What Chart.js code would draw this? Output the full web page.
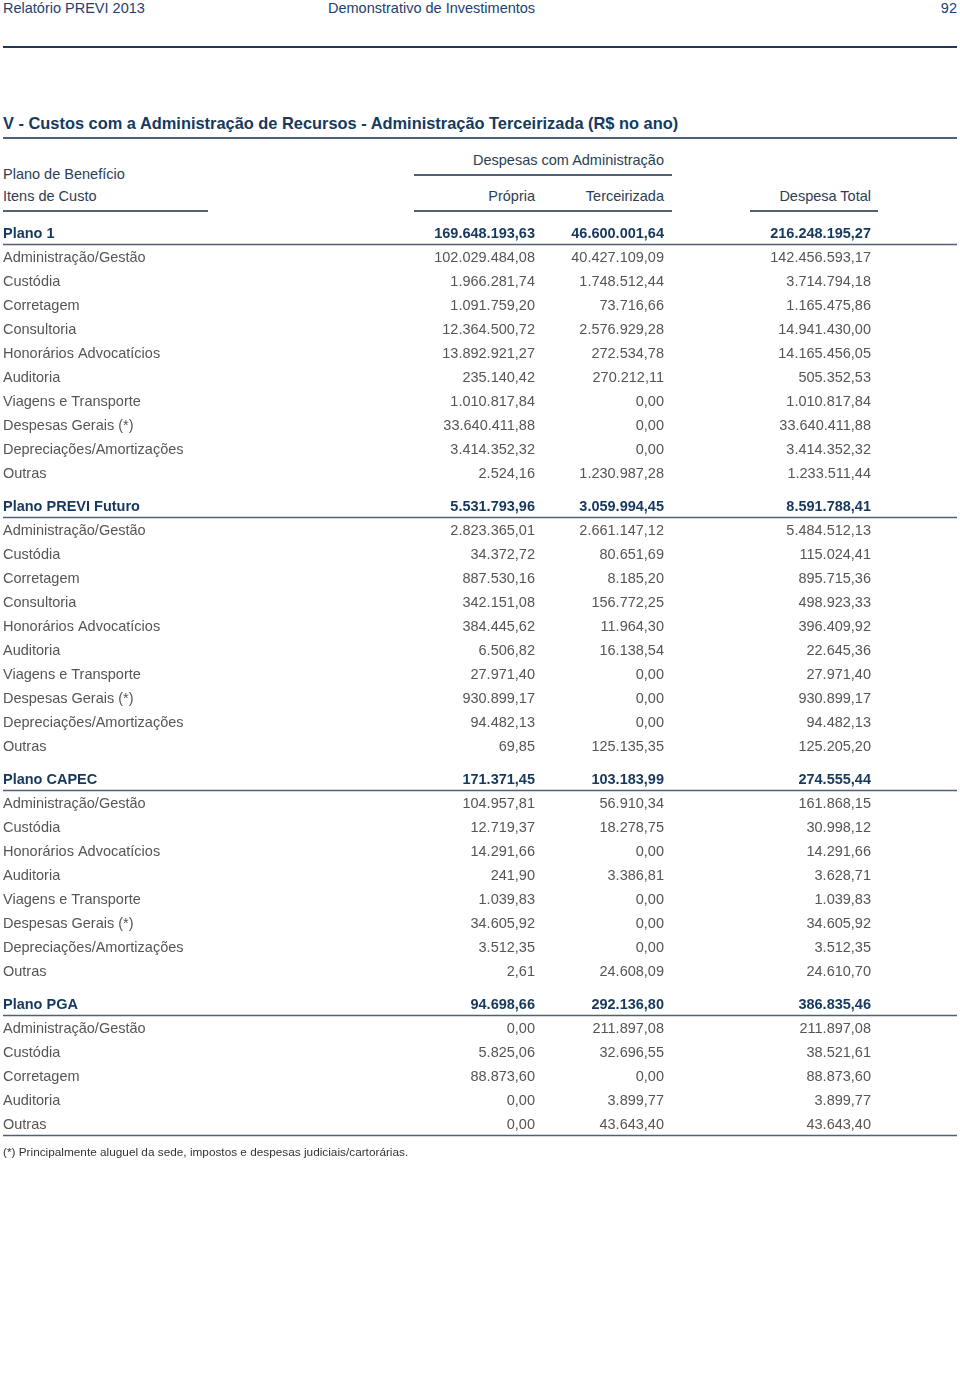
<!DOCTYPE html>
<html lang="pt-BR">
<head>
<meta charset="utf-8">
<title>Custos com a Administração de Recursos</title>
<script src="https://cdn.jsdelivr.net/npm/chart.js@4.4.0/dist/chart.umd.min.js"></script>
<style>
  body { margin: 0; width: 960px; height: 1387px; position: relative; background: #fff;
         font-family: "Liberation Sans", Arial, Helvetica, sans-serif; }
  .t { position: absolute; white-space: nowrap; line-height: 1; }
  .rule { position: absolute; background: #4f6275; }
  .top { font-size: 14.5px; color: #1d4170; top: 1px; }
  .hd { font-size: 14.5px; color: #2c3e52; }
  #chartBox { position: absolute; left: 0; top: 216px; width: 960px; height: 936px; }
</style>
</head>
<body>
<div class="t top" style="left:3px">Relatório PREVI 2013</div>
<div class="t top" style="left:328px">Demonstrativo de Investimentos</div>
<div class="t top" style="right:3px">92</div>
<div class="rule" style="left:3px;width:954px;top:46px;height:2px;background:#1e3a58"></div>

<div class="t" style="left:3px;top:115px;font-size:16.4px;font-weight:bold;color:#163a5e">V - Custos com a Administração de Recursos - Administração Terceirizada (R$ no ano)</div>
<div class="rule" style="left:3px;width:954px;top:137px;height:2px"></div>

<div class="t hd" style="right:296px;top:153px">Despesas com Administração</div>
<div class="rule" style="left:414px;width:258px;top:174px;height:1.5px"></div>
<div class="t hd" style="left:3px;top:167px">Plano de Benefício</div>
<div class="t hd" style="left:3px;top:189px">Itens de Custo</div>
<div class="t hd" style="right:425px;top:189px">Própria</div>
<div class="t hd" style="right:296px;top:189px">Terceirizada</div>
<div class="t hd" style="right:89px;top:189px">Despesa Total</div>
<div class="rule" style="left:3px;width:205px;top:210px;height:1.5px"></div>
<div class="rule" style="left:414px;width:258px;top:210px;height:1.5px"></div>
<div class="rule" style="left:750px;width:128px;top:210px;height:1.5px"></div>

<div id="chartBox"><canvas id="tabela" width="960" height="936"></canvas></div>

<div class="t" style="left:3px;top:1147px;font-size:11.8px;color:#333">(*) Principalmente aluguel da sede, impostos e despesas judiciais/cartorárias.</div>

<script>
// planos (linhas de total)
const groups = ['Plano 1', 'Plano PREVI Futuro', 'Plano CAPEC', 'Plano PGA'];
const groupPropria = [169648193.63, 5531793.96, 171371.45, 94698.66];
const groupTerceirizada = [46600001.64, 3059994.45, 103183.99, 292136.80];
const groupTotal = [216248195.27, 8591788.41, 274555.44, 386835.46];

// Plano 1
const plano1Itens = ['Administração/Gestão', 'Custódia', 'Corretagem', 'Consultoria', 'Honorários Advocatícios',
  'Auditoria', 'Viagens e Transporte', 'Despesas Gerais (*)', 'Depreciações/Amortizações', 'Outras'];
const plano1Propria = [102029484.08, 1966281.74, 1091759.20, 12364500.72, 13892921.27, 235140.42, 1010817.84, 33640411.88, 3414352.32, 2524.16];
const plano1Terceirizada = [40427109.09, 1748512.44, 73716.66, 2576929.28, 272534.78, 270212.11, 0, 0, 0, 1230987.28];
const plano1Total = [142456593.17, 3714794.18, 1165475.86, 14941430.00, 14165456.05, 505352.53, 1010817.84, 33640411.88, 3414352.32, 1233511.44];

// Plano PREVI Futuro
const futuroItens = ['Administração/Gestão', 'Custódia', 'Corretagem', 'Consultoria', 'Honorários Advocatícios',
  'Auditoria', 'Viagens e Transporte', 'Despesas Gerais (*)', 'Depreciações/Amortizações', 'Outras'];
const futuroPropria = [2823365.01, 34372.72, 887530.16, 342151.08, 384445.62, 6506.82, 27971.40, 930899.17, 94482.13, 69.85];
const futuroTerceirizada = [2661147.12, 80651.69, 8185.20, 156772.25, 11964.30, 16138.54, 0, 0, 0, 125135.35];
const futuroTotal = [5484512.13, 115024.41, 895715.36, 498923.33, 396409.92, 22645.36, 27971.40, 930899.17, 94482.13, 125205.20];

// Plano CAPEC
const capecItens = ['Administração/Gestão', 'Custódia', 'Honorários Advocatícios', 'Auditoria',
  'Viagens e Transporte', 'Despesas Gerais (*)', 'Depreciações/Amortizações', 'Outras'];
const capecPropria = [104957.81, 12719.37, 14291.66, 241.90, 1039.83, 34605.92, 3512.35, 2.61];
const capecTerceirizada = [56910.34, 18278.75, 0, 3386.81, 0, 0, 0, 24608.09];
const capecTotal = [161868.15, 30998.12, 14291.66, 3628.71, 1039.83, 34605.92, 3512.35, 24610.70];

// Plano PGA
const pgaItens = ['Administração/Gestão', 'Custódia', 'Corretagem', 'Auditoria', 'Outras'];
const pgaPropria = [0, 5825.06, 88873.60, 0, 0];
const pgaTerceirizada = [211897.08, 32696.55, 0, 3899.77, 43643.40];
const pgaTotal = [211897.08, 38521.61, 88873.60, 3899.77, 43643.40];

const itens = [plano1Itens, futuroItens, capecItens, pgaItens];
const propria = [plano1Propria, futuroPropria, capecPropria, pgaPropria];
const terceirizada = [plano1Terceirizada, futuroTerceirizada, capecTerceirizada, pgaTerceirizada];
const total = [plano1Total, futuroTotal, capecTotal, pgaTotal];

// layout: column anchors on the x scale (pixels), extra gap before each plano (in rows)
const colX = { itens: 3, propria: 535, terceirizada: 664, total: 871 };
const groupGap = 0.375;
const navy = '#16385c', gray = '#555555';
const fontFam = '"Liberation Sans", Arial, sans-serif';

function fmt(n) {
  const [i, d] = n.toFixed(2).split('.');
  return i.replace(/\B(?=(\d{3})+(?!\d))/g, '.') + ',' + d;
}

const colItens = [], colPropria = [], colTerc = [], colTotal = [];
let row = 0;
groups.forEach((g, gi) => {
  const y = row + gi * groupGap;
  colItens.push({ x: colX.itens, y, text: g, bold: true });
  colPropria.push({ x: colX.propria, y, text: fmt(groupPropria[gi]), bold: true });
  colTerc.push({ x: colX.terceirizada, y, text: fmt(groupTerceirizada[gi]), bold: true });
  colTotal.push({ x: colX.total, y, text: fmt(groupTotal[gi]), bold: true });
  row++;
  itens[gi].forEach((it, k) => {
    const yy = row + gi * groupGap;
    colItens.push({ x: colX.itens, y: yy, text: it });
    colPropria.push({ x: colX.propria, y: yy, text: fmt(propria[gi][k]) });
    colTerc.push({ x: colX.terceirizada, y: yy, text: fmt(terceirizada[gi][k]) });
    colTotal.push({ x: colX.total, y: yy, text: fmt(total[gi][k]) });
    row++;
  });
});
const lastRow = colItens[colItens.length - 1].y;

const cellText = {
  id: 'cellText',
  afterDatasetsDraw(chart) {
    const ctx = chart.ctx;
    const yScale = chart.scales.y;
    ctx.save();
    // rules under each plano row and under the last row
    ctx.strokeStyle = '#4f6275';
    ctx.lineWidth = 1.5;
    const rules = colItens.filter(d => d.bold).map(d => d.y);
    rules.push(lastRow);
    rules.forEach(v => {
      const py = Math.round(yScale.getPixelForValue(v)) + 10.5;
      ctx.beginPath();
      ctx.moveTo(3, py);
      ctx.lineTo(957, py);
      ctx.stroke();
    });
    chart.data.datasets.forEach((ds, i) => {
      const meta = chart.getDatasetMeta(i);
      ctx.textAlign = ds.align;
      ctx.textBaseline = 'middle';
      meta.data.forEach((pt, j) => {
        const d = ds.data[j];
        ctx.font = (d.bold ? 'bold ' : '') + '14.5px ' + fontFam;
        ctx.fillStyle = d.bold ? navy : gray;
        ctx.fillText(d.text, pt.x, pt.y);
      });
    });
    ctx.restore();
  }
};

new Chart(document.getElementById('tabela'), {
  type: 'scatter',
  data: {
    datasets: [
      { label: 'Itens de Custo', data: colItens, align: 'left', pointRadius: 0 },
      { label: 'Própria', data: colPropria, align: 'right', pointRadius: 0 },
      { label: 'Terceirizada', data: colTerc, align: 'right', pointRadius: 0 },
      { label: 'Despesa Total', data: colTotal, align: 'right', pointRadius: 0 }
    ]
  },
  options: {
    responsive: false,
    animation: false,
    layout: { padding: 0 },
    scales: {
      x: { type: 'linear', display: false, min: 0, max: 960 },
      y: { type: 'linear', display: false, reverse: true, min: -0.75, max: 38.25 }
    },
    plugins: { legend: { display: false }, tooltip: { enabled: false } }
  },
  plugins: [cellText]
});
</script>
</body>
</html>
